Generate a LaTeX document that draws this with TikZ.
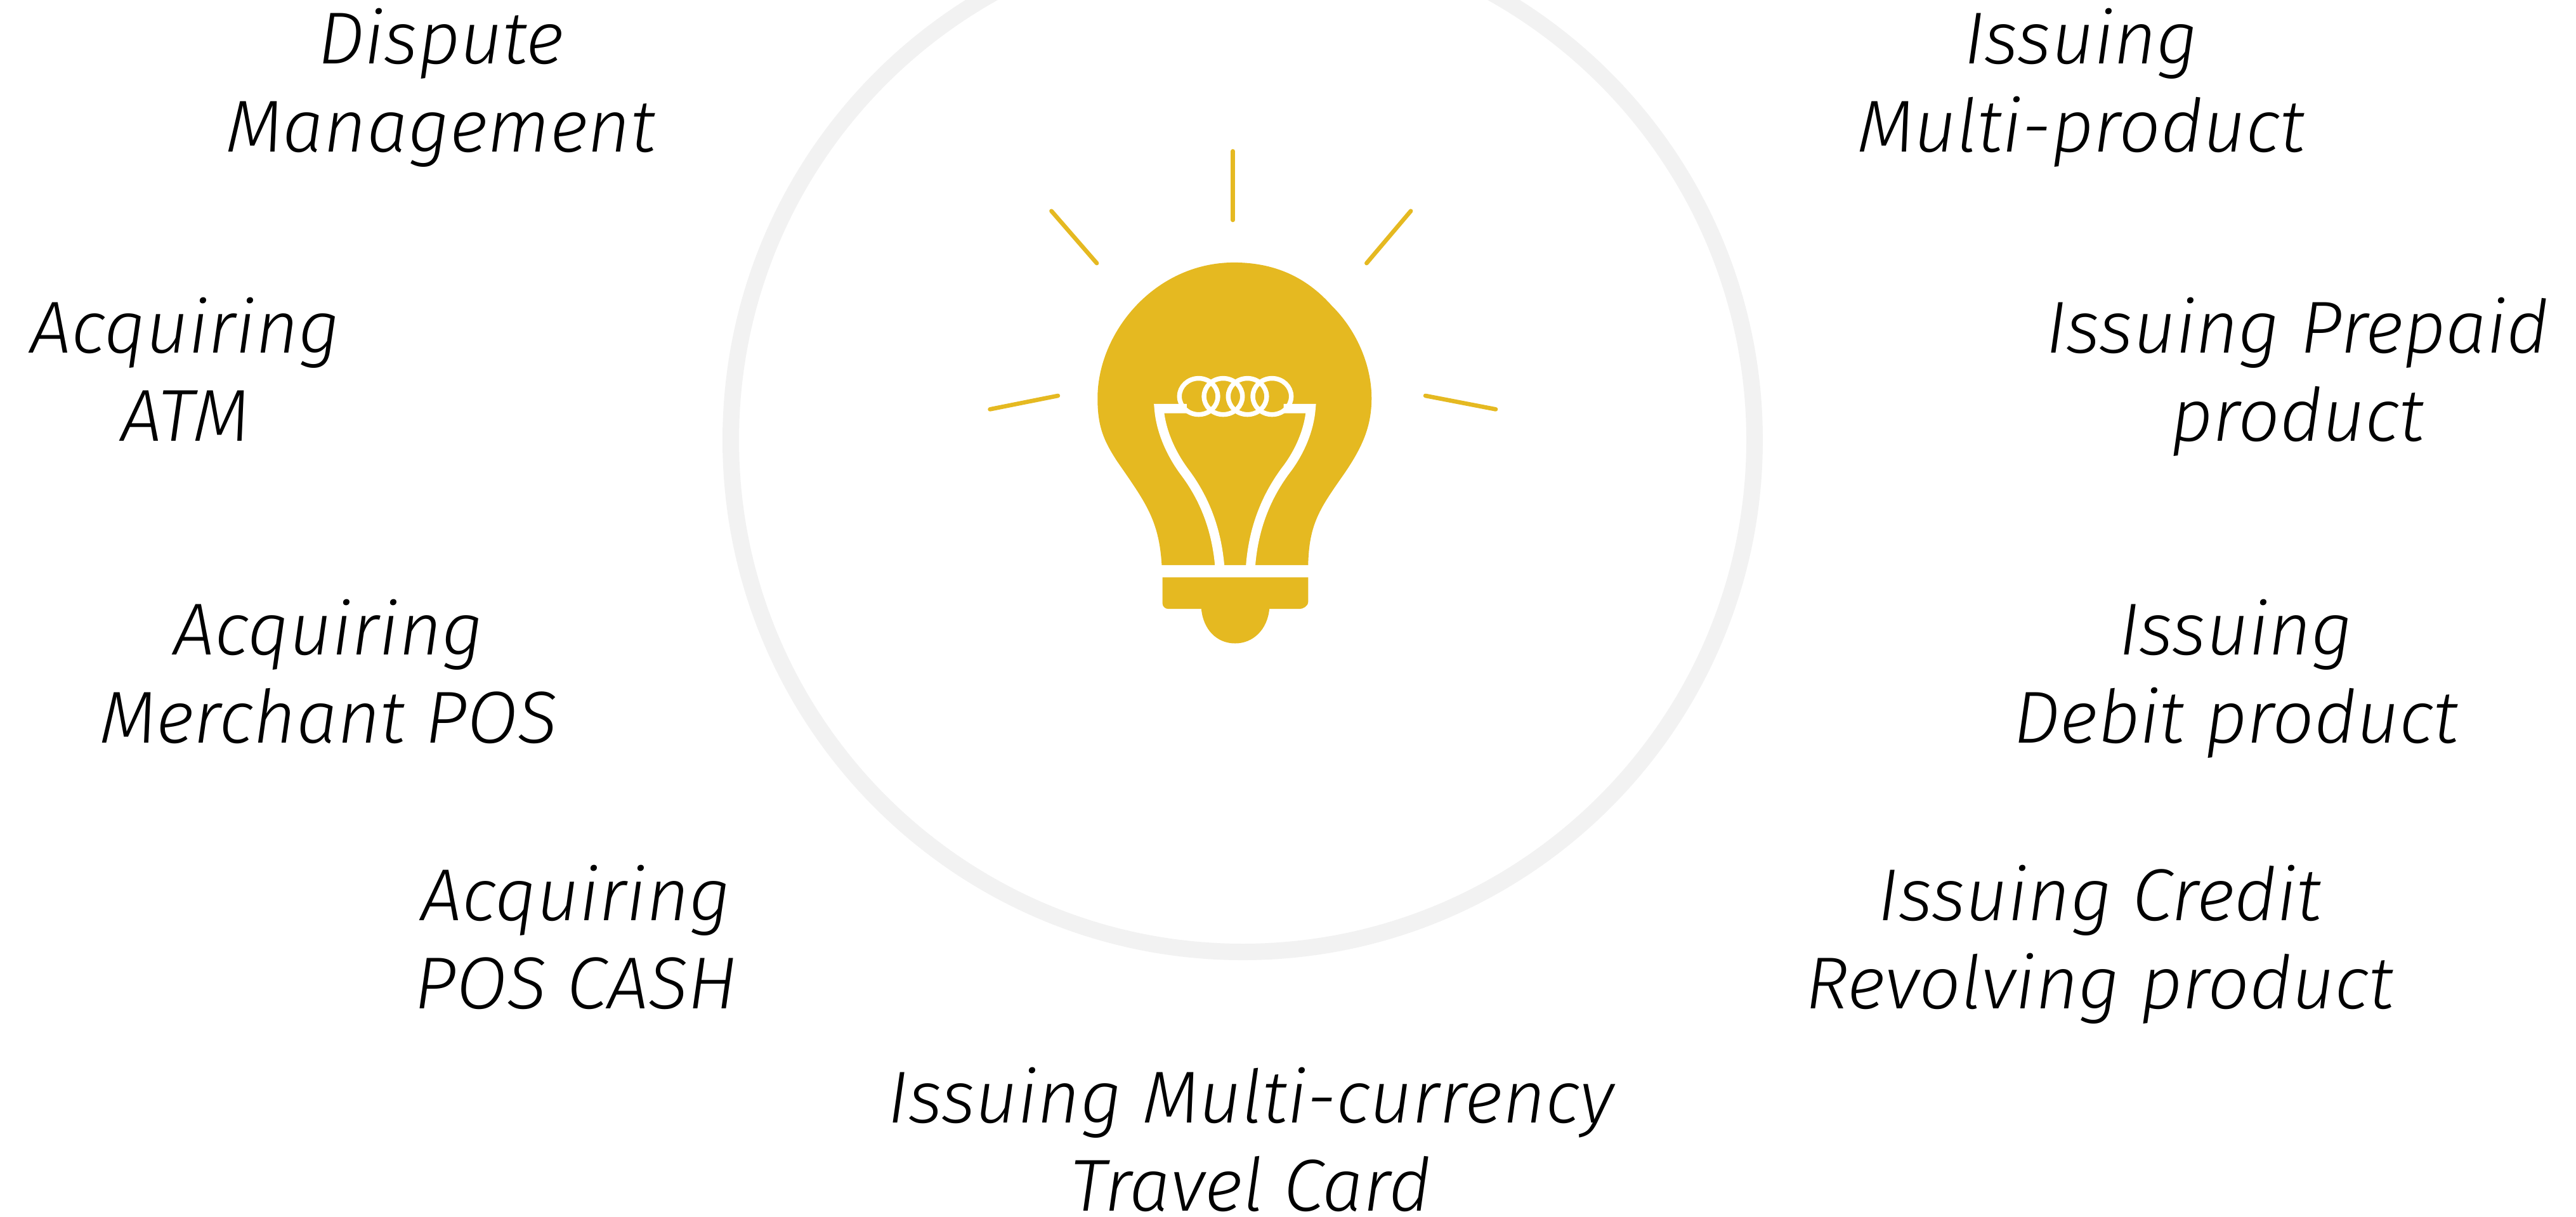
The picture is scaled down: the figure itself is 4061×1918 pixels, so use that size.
\documentclass[tikz,border=0pt]{standalone}
\usepackage{fontspec}
\setmainfont{Fira Sans Light}[ItalicFont={Fira Sans Light Italic}]
\definecolor{bulbgold}{HTML}{E5B921}
\definecolor{ringgrey}{HTML}{F2F2F2}
\tikzset{
  lbl/.style={align=center,inner sep=0pt,anchor=base,font=\fontsize{33}{39.3}\selectfont\itshape},
  ray/.style={draw=bulbgold,line width=1.9pt,line cap=round},
  wire/.style={draw=white,line width=4.2pt},
  coil/.style={draw=white,line width=2.1pt}
}
\begin{document}
\begin{tikzpicture}[x=0.01cm,y=-0.01cm]
\useasboundingbox (0,0) rectangle (4061,1918);
\begin{scope}
\clip (0,0) rectangle (4061,1918);
\draw[ringgrey,line width=7.4pt] (1959,694) circle (807);
\end{scope}
\begin{scope}[shift={(1500,200)},xscale=0.6059,yscale=0.5485]
\foreach \a/\b/\c/\d in {732/70/732/268, 260/242/378/392, 1195/242/1080/392, 100/812/277/773, 1416/812/1233/773} % the rays
\draw[ray] (\a,\b) -- (\c,\d);
% glass
\fill[bulbgold] (547,1260) .. controls (540,1130) and (505,1080) .. (430,960)
  .. controls (395,900) and (380,860) .. (380,780)
  .. controls (380,590) and (530,390) .. (735,390)
  .. controls (850,390) and (930,440) .. (990,515)
  .. controls (1050,580) and (1093,680) .. (1093,780)
  .. controls (1093,860) and (1070,920) .. (1020,1000)
  .. controls (960,1095) and (930,1140) .. (928,1260) -- cycle;
% socket
\fill[bulbgold] (549,1295) -- (928,1295) -- (928,1365) .. controls (928,1378) and (915,1386) .. (905,1386)
  -- (827,1386) .. controls (822,1445) and (785,1485) .. (738,1485)
  .. controls (690,1485) and (655,1445) .. (650,1386)
  -- (565,1386) .. controls (555,1386) and (549,1378) .. (549,1370) -- cycle;
% filament
\draw[wire] (612,810) -- (540,810) .. controls (545,880) and (575,945) .. (605,990)
  .. controls (660,1070) and (690,1160) .. (698,1265);
\draw[wire] (864,810) -- (935,810) .. controls (930,880) and (900,945) .. (868,990)
  .. controls (815,1070) and (785,1160) .. (778,1265);
\foreach \x in {643,707,770,834} % the coil
\draw[coil] (\x,775) ellipse (50 and 52);
\end{scope}
\node[lbl] (dispute) at (695,239) {Dispute\\Management};
\node[lbl] (atm) at (292,695) {Acquiring\\ATM};
\node[lbl] (merchant) at (518,1171) {Acquiring\\Merchant POS};
\node[lbl] (cash) at (908,1590) {Acquiring\\POS CASH};
\node[lbl] (travel) at (1972,1909) {Issuing Multi-currency\\Travel Card};
\node[lbl] (multi) at (3281,239) {Issuing\\Multi-product};
\node[lbl] (prepaid) at (3622,695) {Issuing Prepaid\\product};
\node[lbl] (debit) at (3525,1171) {Issuing\\Debit product};
\node[lbl] (credit) at (3310,1590) {Issuing Credit\\Revolving product};
\end{tikzpicture}
\end{document}
